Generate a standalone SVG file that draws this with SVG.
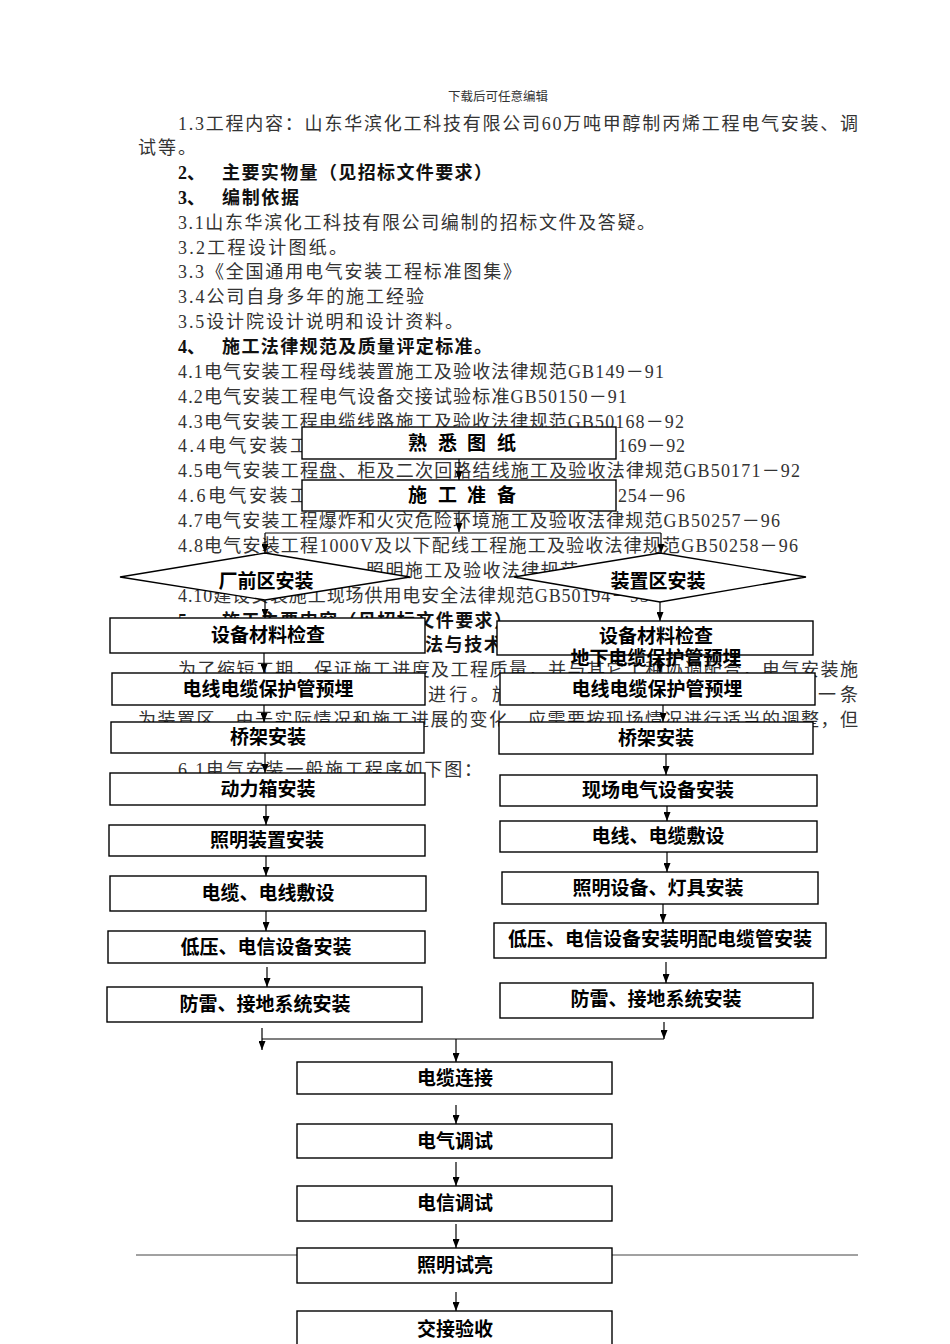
<svg xmlns="http://www.w3.org/2000/svg" width="950" height="1344" viewBox="0 0 950 1344">
<style>
.bg{fill:#ffffff}
.hdr{font-family:"Liberation Sans","Noto Sans CJK SC",sans-serif;font-size:12px;fill:#333}
.b{font-family:"Liberation Serif","Noto Sans CJK SC",serif;font-size:18px;fill:#333}
.bh{font-family:"Liberation Serif","Noto Sans CJK SC",serif;font-size:18px;font-weight:bold;fill:#111}
.box{fill:#ffffff;stroke:#000;stroke-width:1.4}
.dia{fill:#ffffff;stroke:#000;stroke-width:1.3}
.t{font-family:"Liberation Sans","Noto Sans CJK SC",sans-serif;font-size:19px;font-weight:bold;fill:#000;text-anchor:middle}
.ln{fill:none;stroke:#000;stroke-width:1.2}
.ar{fill:none;stroke:#000;stroke-width:1.2;marker-end:url(#ah)}
.rule{stroke:#444;stroke-width:1}
</style>
<defs>
<marker id="ah" viewBox="0 0 9 7" refX="9" refY="3.5" markerWidth="9" markerHeight="7" orient="auto" markerUnits="userSpaceOnUse">
<path d="M0,0 L9,3.5 L0,7 z" fill="#000"/>
</marker>
</defs>
<rect class="bg" x="0" y="0" width="950" height="1344"/>

<g id="page-text">
<text class="hdr" x="448" y="101" textLength="100" lengthAdjust="spacingAndGlyphs">下载后可任意编辑</text>
<text class="b" x="178" y="130" textLength="680" lengthAdjust="spacing">1.3工程内容：山东华滨化工科技有限公司60万吨甲醇制丙烯工程电气安装、调</text>
<text class="b" x="138" y="154" textLength="58" lengthAdjust="spacing">试等。</text>
<text class="bh" x="178" y="179">2、</text>
<text class="bh" x="222" y="179" textLength="270" lengthAdjust="spacing">主要实物量（见招标文件要求）</text>
<text class="bh" x="178" y="204">3、</text>
<text class="bh" x="222" y="204" textLength="77" lengthAdjust="spacing">编制依据</text>
<text class="b" x="178" y="228.6" textLength="477" lengthAdjust="spacing">3.1山东华滨化工科技有限公司编制的招标文件及答疑。</text>
<text class="b" x="178" y="253.5" textLength="169" lengthAdjust="spacing">3.2工程设计图纸。</text>
<text class="b" x="178" y="278.4" textLength="343" lengthAdjust="spacing">3.3《全国通用电气安装工程标准图集》</text>
<text class="b" x="178" y="303.2" textLength="246" lengthAdjust="spacing">3.4公司自身多年的施工经验</text>
<text class="b" x="178" y="328" textLength="285" lengthAdjust="spacing">3.5设计院设计说明和设计资料。</text>
<text class="bh" x="178" y="353">4、</text>
<text class="bh" x="222" y="353" textLength="270" lengthAdjust="spacing">施工法律规范及质量评定标准。</text>
<text class="b" x="178" y="377.8" textLength="486" lengthAdjust="spacing">4.1电气安装工程母线装置施工及验收法律规范GB149－91</text>
<text class="b" x="178" y="402.7" textLength="449" lengthAdjust="spacing">4.2电气安装工程电气设备交接试验标准GB50150－91</text>
<text class="b" x="178" y="427.6" textLength="506" lengthAdjust="spacing">4.3电气安装工程电缆线路施工及验收法律规范GB50168－92</text>
<text class="b" x="178" y="452.4" textLength="130" lengthAdjust="spacing">4.4电气安装工</text>
<text class="b" x="618" y="452.4" textLength="67" lengthAdjust="spacing">169－92</text>
<text class="b" x="178" y="477.3" textLength="622" lengthAdjust="spacing">4.5电气安装工程盘、柜及二次回路结线施工及验收法律规范GB50171－92</text>
<text class="b" x="178" y="502.2" textLength="130" lengthAdjust="spacing">4.6电气安装工</text>
<text class="b" x="618" y="502.2" textLength="67" lengthAdjust="spacing">254－96</text>
<text class="b" x="178" y="527" textLength="602" lengthAdjust="spacing">4.7电气安装工程爆炸和火灾危险环境施工及验收法律规范GB50257－96</text>
<text class="b" x="178" y="552" textLength="620" lengthAdjust="spacing">4.8电气安装工程1000V及以下配线工程施工及验收法律规范GB50258－96</text>
<text class="b" x="366" y="576.8" textLength="212" lengthAdjust="spacing">照明施工及验收法律规范</text>
<text class="b" x="178" y="601.7" textLength="471" lengthAdjust="spacing">4.10建设安装施工现场供用电安全法律规范GB50194－93</text>
<text class="bh" x="178" y="626.5">5、</text>
<text class="bh" x="222" y="626.5" textLength="290" lengthAdjust="spacing">施工主要内容（见招标文件要求）</text>
<text class="bh" x="425" y="651.4" textLength="116" lengthAdjust="spacing">法与技术措施</text>
<text class="b" x="178" y="676.3" textLength="680" lengthAdjust="spacing">为了缩短工期，保证施工进度及工程质量，并与其它工种协调配合，电气安装施</text>
<text class="b" x="428" y="701" textLength="82" lengthAdjust="spacing">进行。施</text>
<text class="b" x="818" y="701" textLength="40" lengthAdjust="spacing">一条</text>
<text class="b" x="138" y="726" textLength="720" lengthAdjust="spacing">为装置区，由于实际情况和施工进展的变化，应需要按现场情况进行适当的调整，但</text>
<text class="b" x="178" y="776" textLength="304" lengthAdjust="spacing">6.1电气安装一般施工程序如下图：</text>
<line class="rule" x1="136" y1="1255" x2="858" y2="1255"/>
</g>

<g id="connectors">
<line class="ar" x1="459" y1="459" x2="459" y2="480"/>
<line class="ar" x1="459" y1="511" x2="459" y2="532"/>
<line class="ln" x1="265" y1="533" x2="661" y2="533"/>
<line class="ar" x1="265" y1="533" x2="265" y2="553"/>
<line class="ar" x1="661" y1="533" x2="661" y2="553"/>
<line class="ar" x1="265" y1="600" x2="265" y2="618"/>
<line class="ar" x1="264" y1="653" x2="264" y2="673"/>
<line class="ar" x1="264" y1="705" x2="264" y2="722"/>
<line class="ar" x1="265" y1="753" x2="265" y2="773"/>
<line class="ar" x1="266" y1="805" x2="266" y2="825"/>
<line class="ar" x1="266" y1="856" x2="266" y2="876"/>
<line class="ar" x1="266" y1="911" x2="266" y2="931"/>
<line class="ar" x1="267" y1="967" x2="267" y2="987"/>
<line class="ar" x1="660" y1="602" x2="660" y2="621"/>
<line class="ar" x1="660" y1="655" x2="660" y2="673"/>
<line class="ar" x1="663" y1="705" x2="663" y2="722"/>
<line class="ar" x1="666" y1="754" x2="666" y2="775"/>
<line class="ar" x1="667" y1="806" x2="667" y2="821"/>
<line class="ar" x1="667" y1="852" x2="667" y2="872"/>
<line class="ar" x1="663" y1="904" x2="663" y2="923"/>
<line class="ar" x1="666" y1="962" x2="666" y2="983"/>
<line class="ar" x1="664" y1="1022" x2="664" y2="1039"/>
<line class="ln" x1="262" y1="1039" x2="664" y2="1039"/>
<line class="ar" x1="262" y1="1028" x2="262" y2="1050"/>
<line class="ar" x1="456" y1="1039" x2="456" y2="1062"/>
<line class="ar" x1="456" y1="1105" x2="456" y2="1124"/>
<line class="ar" x1="456" y1="1162" x2="456" y2="1186"/>
<line class="ar" x1="456" y1="1224" x2="456" y2="1248"/>
<line class="ar" x1="456" y1="1292" x2="456" y2="1311"/>
</g>

<g id="n-shuxi"><rect class="box" x="302" y="427" width="314" height="32"/>
<text class="t" y="450" style="text-anchor:start"><tspan x="408">熟</tspan><tspan x="438">悉</tspan><tspan x="467">图</tspan><tspan x="497">纸</tspan></text></g>
<g id="n-zhunbei"><rect class="box" x="302" y="480" width="314" height="31"/>
<text class="t" y="502" style="text-anchor:start"><tspan x="408">施</tspan><tspan x="438">工</tspan><tspan x="467">准</tspan><tspan x="497">备</tspan></text></g>

<g id="n-changqian"><polygon class="dia" points="265,553 410,577 265,600 120,577"/>
<text class="t" x="266" y="588">厂前区安装</text></g>
<g id="n-zhuangzhi"><polygon class="dia" points="660,553 806,577 660,602 514,577"/>
<text class="t" x="658" y="588">装置区安装</text></g>

<g id="n-l1"><rect class="box" x="110" y="618" width="315" height="35"/><text class="t" x="268" y="642">设备材料检查</text></g>
<g id="n-l2"><rect class="box" x="112" y="673" width="313" height="32"/><text class="t" x="268" y="696">电线电缆保护管预埋</text></g>
<g id="n-l3"><rect class="box" x="111" y="722" width="313" height="31"/><text class="t" x="268" y="744">桥架安装</text></g>
<g id="n-l4"><rect class="box" x="110" y="773" width="315" height="32"/><text class="t" x="268" y="796">动力箱安装</text></g>
<g id="n-l5"><rect class="box" x="109" y="825" width="316" height="31"/><text class="t" x="267" y="847">照明装置安装</text></g>
<g id="n-l6"><rect class="box" x="110" y="876" width="316" height="35"/><text class="t" x="268" y="900">电缆、电线敷设</text></g>
<g id="n-l7"><rect class="box" x="108" y="931" width="317" height="32"/><text class="t" x="266" y="954">低压、电信设备安装</text></g>
<g id="n-l8"><rect class="box" x="107" y="987" width="315" height="35"/><text class="t" x="265" y="1011">防雷、接地系统安装</text></g>

<g id="n-r1"><rect class="box" x="497" y="621" width="316" height="34"/><text class="t" x="656" y="643">设备材料检查</text><text class="t" x="656" y="665">地下电缆保护管预埋</text></g>
<g id="n-r2"><rect class="box" x="500" y="673" width="315" height="32"/><text class="t" x="657" y="696">电线电缆保护管预埋</text></g>
<g id="n-r3"><rect class="box" x="499" y="722" width="314" height="32"/><text class="t" x="656" y="745">桥架安装</text></g>
<g id="n-r4"><rect class="box" x="500" y="775" width="317" height="31"/><text class="t" x="658" y="797">现场电气设备安装</text></g>
<g id="n-r5"><rect class="box" x="500" y="821" width="317" height="31"/><text class="t" x="658" y="843">电线、电缆敷设</text></g>
<g id="n-r6"><rect class="box" x="502" y="872" width="316" height="32"/><text class="t" x="658" y="895">照明设备、灯具安装</text></g>
<g id="n-r7"><rect class="box" x="494" y="923" width="332" height="35"/><text class="t" x="660" y="946">低压、电信设备安装明配电缆管安装</text></g>
<g id="n-r8"><rect class="box" x="500" y="983" width="313" height="35"/><text class="t" x="656" y="1006">防雷、接地系统安装</text></g>

<g id="n-lianjie"><rect class="box" x="297" y="1062" width="315" height="32"/><text class="t" x="455" y="1085">电缆连接</text></g>
<g id="n-dianqi"><rect class="box" x="297" y="1124" width="315" height="34"/><text class="t" x="455" y="1148">电气调试</text></g>
<g id="n-dianxin"><rect class="box" x="297" y="1186" width="315" height="35"/><text class="t" x="455" y="1210">电信调试</text></g>
<g id="n-shiliang"><rect class="box" x="297" y="1248" width="315" height="35"/><text class="t" x="455" y="1272">照明试亮</text></g>
<g id="n-jiaojie"><rect class="box" x="297" y="1311" width="315" height="40"/><text class="t" x="455" y="1336">交接验收</text></g>
</svg>
